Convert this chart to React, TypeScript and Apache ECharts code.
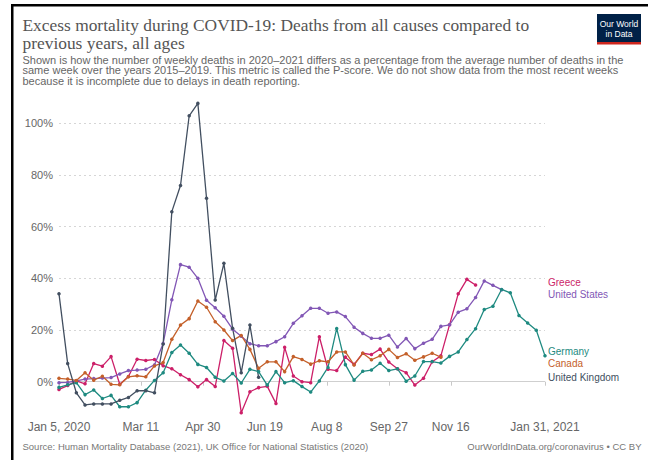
import React, { useEffect, useRef } from "react";
import * as echarts from "echarts";

// x = days since Jan 5, 2020 (weekly points)
const tickDays = [0, 66, 116, 166, 216, 266, 316, 392];
const tickLabels = ["Jan 5, 2020", "Mar 11", "Apr 30", "Jun 19", "Aug 8", "Sep 27", "Nov 16", "Jan 31, 2021"];
const yTicks = [0, 20, 40, 60, 80, 100];

const ukValues = [34, 7, -4.3, -9, -8.6, -8.6, -8.6, -7.2, -6.1, -3.5, -3.5, -4.3, 14.6, 65.8, 75.9, 102.9, 107.7, 71, 31.6, 45.8, 20.7, 3.5, 21.9, 1.7];
const usValues = [-0.4, -0.3, 0.3, 1, 1.2, 1.4, 1.6, 3, 4.3, 4.5, 4.8, 6.5, 14.8, 31.7, 45.3, 44.3, 40, 31.5, 28.6, 25.3, 20.3, 17.6, 14.7, 13.9, 13.9, 15.5, 17.4, 22.6, 25.5, 28.4, 28.4, 26.5, 27, 25.2, 21.1, 18.7, 16.8, 16.8, 18, 13.4, 16.7, 12.8, 14.9, 16.4, 21.4, 22, 26.9, 28.2, 32.6, 39, 37.3, 35.6];
const canadaValues = [1.3, 1, 0.5, 3.5, 0.6, 2.1, -1, -1.2, 1.9, 2.3, 1.9, 6.1, 7.4, 16.4, 21.9, 24.4, 31.2, 28.8, 23.2, 20, 15.9, 17.9, 12.5, 5.2, 7.7, 7.7, 3.9, 9.7, 8.6, 6.8, 8.1, 7.7, 11.5, 11.5, 6.5, 11, 8.5, 10, 12.5, 9.4, 10.8, 8.3, 9.6, 11, 9.5];
const germanyValues = [-2.2, -1.2, -0.4, -5, -3.2, -6.5, -5.3, -9.7, -9.7, -8.1, -3.3, 0.5, 3.5, 11.3, 14.2, 11, 6.7, 5.5, 1.7, 0.3, 3.2, -0.5, 4.8, 3.9, -1.3, 3.9, -0.4, 0.4, -1.9, -4, 0.3, 5.5, 20.6, 6.6, 0.6, 4, 4.5, 7.1, 4.3, 5, 0.2, 2.2, 7.8, 7.8, 7.2, 9.8, 11.5, 16.3, 20.5, 27.9, 29.2, 35.7, 34.4, 25.6, 22.7, 19.9, 10];
const greeceValues = [-3, -1.5, 0.3, -0.8, 7, 6, 9.7, -1, 2, 8.7, 8.2, 8.6, 6.2, 5, 2.7, 0.8, -2, 0.8, -1.9, 15.9, 12.9, -12, -3.9, -2.3, -1.8, -8.4, 13.3, 2.2, 0, -0.4, 17.4, 4.8, 4.3, 9.5, 6.7, 11, 10.5, 12.6, 7.6, 5, 3.5, -1.3, 1.3, 7.7, 10, 22, 34, 39.6, 37.4];

const seriesNames = ["Greece", "United States", "Germany", "Canada", "United Kingdom"];
const seriesColors = ["#cc1f68", "#8257b5", "#1e8a80", "#c4602a", "#424f60"];
const seriesValues = [greeceValues, usValues, germanyValues, canadaValues, ukValues];

const toPoints = (vals: number[]) => vals.map((v, i) => [i * 7, v]);

const SANS = "'Liberation Sans', Arial, sans-serif";
const SERIF = "'Liberation Serif', 'Times New Roman', serif";

export default function App() {
  const ref = useRef<HTMLDivElement>(null);
  useEffect(() => {
    if (!ref.current) return;
    const chart = echarts.init(ref.current, undefined, { renderer: "svg" });
    const labelY = [282.7, 294.3, 351, 363.3, 377];
    const option: any = {
      animation: false,
      backgroundColor: "#ffffff",
      grid: { left: 59, right: 103, top: 102.6, bottom: 47.3, containLabel: false },
      xAxis: {
        type: "value",
        min: 0,
        max: 392,
        splitLine: { show: false },
        axisLine: { show: false },
        axisTick: { show: true, customValues: tickDays, length: 4, lineStyle: { color: "#c8c8c8" } },
        axisLabel: {
          customValues: tickDays,
          formatter: (v: number) => tickLabels[tickDays.indexOf(Math.round(v))] ?? "",
          color: "#666",
          fontSize: 12,
          fontFamily: SANS,
          margin: 8,
        },
      },
      yAxis: {
        type: "value",
        min: -12,
        max: 108,
        splitLine: { show: false },
        axisLine: { show: false },
        axisTick: { show: false },
        axisLabel: {
          customValues: yTicks,
          formatter: (v: number) => v + "%",
          color: "#666",
          fontSize: 11,
          fontFamily: SANS,
          margin: 6,
        },
      },
      series: [
        {
          type: "line",
          name: "grid",
          data: [],
          z: 1,
          silent: true,
          markLine: {
            silent: true,
            z: 1,
            symbol: ["none", "none"],
            label: { show: false },
            emphasis: { disabled: true },
            data: yTicks.map((v) => ({
              yAxis: v,
              lineStyle: v === 0 ? { type: "solid", color: "#cfcfcf", width: 1 } : { type: [2, 3], color: "#d6d6d6", width: 1 },
            })),
          },
        },
        ...seriesNames.map((name, k) => ({
          type: "line",
          name,
          data: toPoints(seriesValues[k]),
          z: 3,
          symbol: "circle",
          symbolSize: 3.5,
          showSymbol: true,
          lineStyle: { width: 1.3, color: seriesColors[k] },
          itemStyle: { color: seriesColors[k] },
          emphasis: { disabled: true },
        })),
      ],
      graphic: [
        { type: "rect", shape: { x: 11, y: 4, width: 637, height: 2.5 }, style: { fill: "#000" } },
        { type: "rect", shape: { x: 11, y: 4, width: 2.5, height: 456 }, style: { fill: "#000" } },
        { type: "text", x: 22.5, y: 25, style: { text: "Excess mortality during COVID-19: Deaths from all causes compared to", font: `17.4px ${SERIF}`, fill: "#555", verticalAlign: "middle" } },
        { type: "text", x: 22.5, y: 42.6, style: { text: "previous years, all ages", font: `17.4px ${SERIF}`, fill: "#555", verticalAlign: "middle" } },
        { type: "text", x: 22.5, y: 59.8, style: { text: "Shown is how the number of weekly deaths in 2020–2021 differs as a percentage from the average number of deaths in the", font: `11px ${SANS}`, fill: "#666", verticalAlign: "middle", lineHeight: 10.5 } },
        { type: "text", x: 22.5, y: 70.4, style: { text: "same week over the years 2015–2019. This metric is called the P-score. We do not show data from the most recent weeks", font: `11px ${SANS}`, fill: "#666", verticalAlign: "middle", lineHeight: 10.5 } },
        { type: "text", x: 22.5, y: 81, style: { text: "because it is incomplete due to delays in death reporting.", font: `11px ${SANS}`, fill: "#666", verticalAlign: "middle", lineHeight: 10.5 } },
        { type: "rect", shape: { x: 597, y: 14, width: 44, height: 30 }, style: { fill: "#002147" } },
        { type: "rect", shape: { x: 597, y: 42, width: 44, height: 2.5 }, style: { fill: "#ce261e" } },
        { type: "text", x: 619, y: 23.5, style: { text: "Our World", font: `8.5px ${SANS}`, fill: "#fff", align: "center", verticalAlign: "middle" } },
        { type: "text", x: 619, y: 33.5, style: { text: "in Data", font: `8.5px ${SANS}`, fill: "#fff", align: "center", verticalAlign: "middle" } },
        ...seriesNames.map((name, k) => ({
          type: "text", x: 548, y: labelY[k],
          style: { text: name, font: `10px ${SANS}`, fill: seriesColors[k], verticalAlign: "middle" },
        })),
        { type: "text", x: 22.5, y: 446, style: { text: "Source: Human Mortality Database (2021), UK Office for National Statistics (2020)", font: `9.5px ${SANS}`, fill: "#777", verticalAlign: "middle" } },
        { type: "text", x: 641.5, y: 446, style: { text: "OurWorldInData.org/coronavirus • CC BY", font: `9.5px ${SANS}`, fill: "#777", align: "right", verticalAlign: "middle" } },
      ],
    };
    chart.setOption(option);
    return () => chart.dispose();
  }, []);
  return <div ref={ref} style={{ position: "fixed", left: 0, top: 0, width: 648, height: 460 }} />;
}
